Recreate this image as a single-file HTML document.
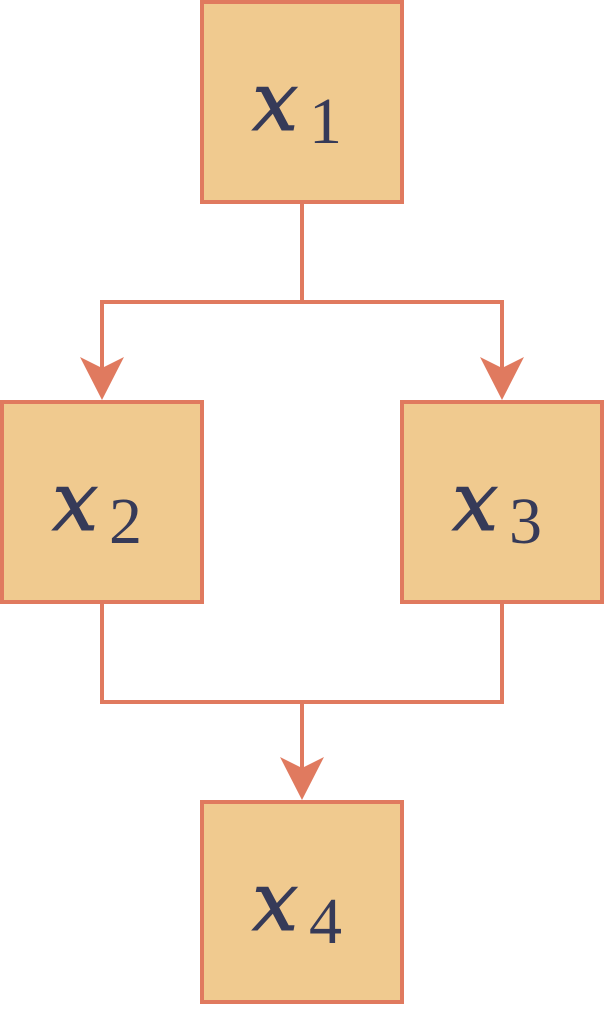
<!DOCTYPE html>
<html><head><style>html,body{margin:0;padding:0;background:#fff;}</style></head>
<body>
<svg width="605" height="1005" viewBox="0 0 605 1005" xmlns="http://www.w3.org/2000/svg">
<g fill="none" stroke="#e07a5f" stroke-width="4">
<path d="M302 202 V302 M102 370 V302 H502 V370"/>
<path d="M102 602 V702 H502 V602 M302 702 V770"/>
</g>
<g fill="#e07a5f">
<path d="M102 400 L80 357 L102 368 L124 357 Z"/>
<path d="M502 400 L480 357 L502 368 L524 357 Z"/>
<path d="M302 800 L280 757 L302 768 L324 757 Z"/>
</g>
<g fill="#f0ca8f" stroke="#e07a5f" stroke-width="4">
<rect x="202" y="2" width="200" height="200"/>
<rect x="2" y="402" width="200" height="200"/>
<rect x="402" y="402" width="200" height="200"/>
<rect x="202" y="802" width="200" height="200"/>
</g>
<g fill="#363a58">
<g font-family="DejaVu Serif, serif" font-style="italic" font-size="82" stroke="#363a58" stroke-width="1">
<text x="252" y="130">x</text>
<text x="52" y="530">x</text>
<text x="452" y="530">x</text>
<text x="252" y="930">x</text>
</g>
<g font-family="Liberation Serif, serif" font-size="66">
<text x="309" y="143">1</text>
<text x="109" y="543">2</text>
<text x="509" y="543">3</text>
<text x="309" y="943">4</text>
</g>
</g>
</svg>
</body></html>
